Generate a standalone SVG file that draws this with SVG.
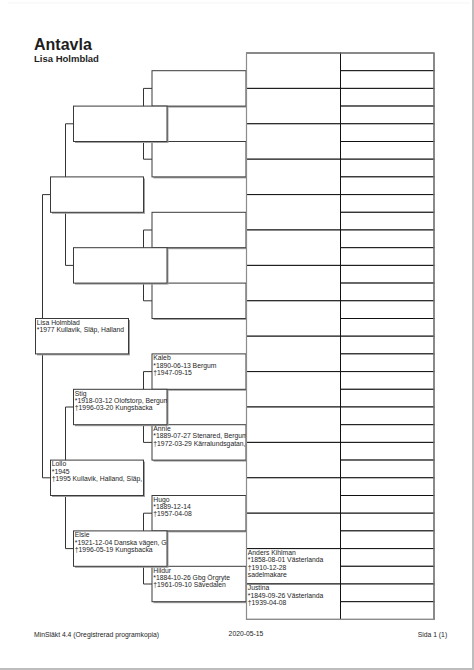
<svg xmlns="http://www.w3.org/2000/svg" width="474" height="670" viewBox="0 0 474 670">
<style>
text{font-family:"Liberation Sans",Arial,sans-serif;fill:#1e1e1e}
.t{font-size:6.8px}
.sh{fill:#a0a0a0}
.box{fill:#fff;stroke:#3a3a3a;stroke-width:1}
.g4{fill:#fff;stroke:#111;stroke-width:1}
.con{fill:none;stroke:#333;stroke-width:1}
</style>
<defs>
<clipPath id="cRoot"><rect x="35.5" y="318.5" width="93" height="35.4"/></clipPath>
<clipPath id="cLollo"><rect x="50.5" y="460.1" width="93" height="35.4"/></clipPath>
<clipPath id="cStig"><rect x="73.5" y="389.3" width="93.5" height="35.4"/></clipPath>
<clipPath id="cElsie"><rect x="73.5" y="530.9" width="93.5" height="35.4"/></clipPath>
<clipPath id="cKaleb"><rect x="152" y="353.9" width="94" height="35.4"/></clipPath>
<clipPath id="cAnnie"><rect x="152" y="424.7" width="94" height="35.4"/></clipPath>
<clipPath id="cHugo"><rect x="152" y="495.5" width="94" height="35.4"/></clipPath>
<clipPath id="cHildur"><rect x="152" y="566.3" width="94" height="35.4"/></clipPath>
<clipPath id="cAnders"><rect x="246.5" y="548.6" width="94" height="35.4"/></clipPath>
<clipPath id="cJustina"><rect x="246.5" y="584" width="94" height="35.4"/></clipPath>
</defs>
<rect width="474" height="670" fill="#fff"/>
<rect x="8" y="2.5" width="462" height="1" fill="#f5f5f5"/>
<rect x="472" y="0" width="2" height="670" fill="#bdbdbd"/>
<rect x="0" y="668" width="474" height="2" fill="#bdbdbd"/>

<text x="34" y="50" font-size="16" font-weight="bold">Antavla</text>
<text x="34" y="61.7" font-size="9.5" font-weight="bold">Lisa Holmblad</text>

<g id="connectors">
<path class="con" d="M50.5,194.6H42.5V477.8H50.5"/>
<path class="con" d="M73.5,123.8H65.5V265.4H73.5"/>
<path class="con" d="M73.5,407H65.5V548.6H73.5"/>
<path class="con" d="M152,88.4H143.5V159.2H152"/>
<path class="con" d="M152,230H143.5V300.8H152"/>
<path class="con" d="M152,371.6H143.5V442.4H152"/>
<path class="con" d="M152,513.2H143.5V584H152"/>
</g>

<!-- generation 3 -->
<g id="g3-0"><rect class="sh" x="153.5" y="72.2" width="94" height="35.4"/><rect class="box" x="152" y="70.7" width="94" height="35.4"/></g>
<g id="g3-1"><rect class="sh" x="153.5" y="143" width="94" height="35.4"/><rect class="box" x="152" y="141.5" width="94" height="35.4"/></g>
<g id="g3-2"><rect class="sh" x="153.5" y="213.8" width="94" height="35.4"/><rect class="box" x="152" y="212.3" width="94" height="35.4"/></g>
<g id="g3-3"><rect class="sh" x="153.5" y="284.6" width="94" height="35.4"/><rect class="box" x="152" y="283.1" width="94" height="35.4"/></g>
<g id="kaleb"><rect class="sh" x="153.5" y="355.4" width="94" height="35.4"/><rect class="box" x="152" y="353.9" width="94" height="35.4"/>
<g clip-path="url(#cKaleb)"><text class="t" x="153.3" y="360.2">Kaleb</text><text class="t" x="153.3" y="367.5">*1890-06-13 Bergum</text><text class="t" x="153.3" y="374.8">†1947-09-15</text></g></g>
<g id="annie"><rect class="sh" x="153.5" y="426.2" width="94" height="35.4"/><rect class="box" x="152" y="424.7" width="94" height="35.4"/>
<g clip-path="url(#cAnnie)"><text class="t" x="153.3" y="431">Annie</text><text class="t" x="153.3" y="438.3">*1889-07-27 Stenared, Bergum</text><text class="t" x="153.3" y="445.6">†1972-03-29 Kärralundsgatan,</text></g></g>
<g id="hugo"><rect class="sh" x="153.5" y="497" width="94" height="35.4"/><rect class="box" x="152" y="495.5" width="94" height="35.4"/>
<g clip-path="url(#cHugo)"><text class="t" x="153.3" y="501.8">Hugo</text><text class="t" x="153.3" y="509.1">*1889-12-14</text><text class="t" x="153.3" y="516.4">†1957-04-08</text></g></g>
<g id="hildur"><rect class="sh" x="153.5" y="567.8" width="94" height="35.4"/><rect class="box" x="152" y="566.3" width="94" height="35.4"/>
<g clip-path="url(#cHildur)"><text class="t" x="153.3" y="572.6">Hildur</text><text class="t" x="153.3" y="579.9">*1884-10-26 Gbg Örgryte</text><text class="t" x="153.3" y="587.2">†1961-09-10 Sävedalen</text></g></g>

<!-- generation 4 -->
<g id="g4-0"><rect class="g4" x="246.5" y="53" width="94" height="35.4"/></g>
<g id="g4-1"><rect class="g4" x="246.5" y="88.4" width="94" height="35.4"/></g>
<g id="g4-2"><rect class="g4" x="246.5" y="123.8" width="94" height="35.4"/></g>
<g id="g4-3"><rect class="g4" x="246.5" y="159.2" width="94" height="35.4"/></g>
<g id="g4-4"><rect class="g4" x="246.5" y="194.6" width="94" height="35.4"/></g>
<g id="g4-5"><rect class="g4" x="246.5" y="230" width="94" height="35.4"/></g>
<g id="g4-6"><rect class="g4" x="246.5" y="265.4" width="94" height="35.4"/></g>
<g id="g4-7"><rect class="g4" x="246.5" y="300.8" width="94" height="35.4"/></g>
<g id="g4-8"><rect class="g4" x="246.5" y="336.2" width="94" height="35.4"/></g>
<g id="g4-9"><rect class="g4" x="246.5" y="371.6" width="94" height="35.4"/></g>
<g id="g4-10"><rect class="g4" x="246.5" y="407" width="94" height="35.4"/></g>
<g id="g4-11"><rect class="g4" x="246.5" y="442.4" width="94" height="35.4"/></g>
<g id="g4-12"><rect class="g4" x="246.5" y="477.8" width="94" height="35.4"/></g>
<g id="g4-13"><rect class="g4" x="246.5" y="513.2" width="94" height="35.4"/></g>
<g id="anders"><rect class="g4" x="246.5" y="548.6" width="94" height="35.4"/>
<g clip-path="url(#cAnders)"><text class="t" x="247.8" y="554.9">Anders Kihlman</text><text class="t" x="247.8" y="562.2">*1858-08-01 Västerlanda</text><text class="t" x="247.8" y="569.5">†1910-12-28</text><text class="t" x="247.8" y="576.8">sadelmakare</text></g></g>
<g id="justina"><rect class="g4" x="246.5" y="584" width="94" height="35.4"/>
<g clip-path="url(#cJustina)"><text class="t" x="247.8" y="590.3">Justina</text><text class="t" x="247.8" y="597.6">*1849-09-26 Västerlanda</text><text class="t" x="247.8" y="604.9">†1939-04-08</text></g></g>

<!-- generation 5 -->
<g id="g5-0"><rect class="g4" x="340.5" y="53" width="93.5" height="17.7"/></g>
<g id="g5-1"><rect class="g4" x="340.5" y="70.7" width="93.5" height="17.7"/></g>
<g id="g5-2"><rect class="g4" x="340.5" y="88.4" width="93.5" height="17.7"/></g>
<g id="g5-3"><rect class="g4" x="340.5" y="106.1" width="93.5" height="17.7"/></g>
<g id="g5-4"><rect class="g4" x="340.5" y="123.8" width="93.5" height="17.7"/></g>
<g id="g5-5"><rect class="g4" x="340.5" y="141.5" width="93.5" height="17.7"/></g>
<g id="g5-6"><rect class="g4" x="340.5" y="159.2" width="93.5" height="17.7"/></g>
<g id="g5-7"><rect class="g4" x="340.5" y="176.9" width="93.5" height="17.7"/></g>
<g id="g5-8"><rect class="g4" x="340.5" y="194.6" width="93.5" height="17.7"/></g>
<g id="g5-9"><rect class="g4" x="340.5" y="212.3" width="93.5" height="17.7"/></g>
<g id="g5-10"><rect class="g4" x="340.5" y="230" width="93.5" height="17.7"/></g>
<g id="g5-11"><rect class="g4" x="340.5" y="247.7" width="93.5" height="17.7"/></g>
<g id="g5-12"><rect class="g4" x="340.5" y="265.4" width="93.5" height="17.7"/></g>
<g id="g5-13"><rect class="g4" x="340.5" y="283.1" width="93.5" height="17.7"/></g>
<g id="g5-14"><rect class="g4" x="340.5" y="300.8" width="93.5" height="17.7"/></g>
<g id="g5-15"><rect class="g4" x="340.5" y="318.5" width="93.5" height="17.7"/></g>
<g id="g5-16"><rect class="g4" x="340.5" y="336.2" width="93.5" height="17.7"/></g>
<g id="g5-17"><rect class="g4" x="340.5" y="353.9" width="93.5" height="17.7"/></g>
<g id="g5-18"><rect class="g4" x="340.5" y="371.6" width="93.5" height="17.7"/></g>
<g id="g5-19"><rect class="g4" x="340.5" y="389.3" width="93.5" height="17.7"/></g>
<g id="g5-20"><rect class="g4" x="340.5" y="407" width="93.5" height="17.7"/></g>
<g id="g5-21"><rect class="g4" x="340.5" y="424.7" width="93.5" height="17.7"/></g>
<g id="g5-22"><rect class="g4" x="340.5" y="442.4" width="93.5" height="17.7"/></g>
<g id="g5-23"><rect class="g4" x="340.5" y="460.1" width="93.5" height="17.7"/></g>
<g id="g5-24"><rect class="g4" x="340.5" y="477.8" width="93.5" height="17.7"/></g>
<g id="g5-25"><rect class="g4" x="340.5" y="495.5" width="93.5" height="17.7"/></g>
<g id="g5-26"><rect class="g4" x="340.5" y="513.2" width="93.5" height="17.7"/></g>
<g id="g5-27"><rect class="g4" x="340.5" y="530.9" width="93.5" height="17.7"/></g>
<g id="g5-28"><rect class="g4" x="340.5" y="548.6" width="93.5" height="17.7"/></g>
<g id="g5-29"><rect class="g4" x="340.5" y="566.3" width="93.5" height="17.7"/></g>
<g id="g5-30"><rect class="g4" x="340.5" y="584" width="93.5" height="17.7"/></g>
<g id="g5-31"><rect class="g4" x="340.5" y="601.7" width="93.5" height="17.7"/></g>
<path d="M246.5,53H434V619.4H246.5Z" fill="none" stroke="#8c8c8c" stroke-width="1.2"/>

<!-- generation 2 -->
<g id="g2-0"><rect class="sh" x="75" y="107.6" width="93.5" height="35.4"/><rect class="box" x="73.5" y="106.1" width="93.5" height="35.4"/></g>
<g id="g2-1"><rect class="sh" x="75" y="249.2" width="93.5" height="35.4"/><rect class="box" x="73.5" y="247.7" width="93.5" height="35.4"/></g>
<g id="stig"><rect class="sh" x="75" y="390.8" width="93.5" height="35.4"/><rect class="box" x="73.5" y="389.3" width="93.5" height="35.4"/>
<g clip-path="url(#cStig)"><text class="t" x="74.8" y="395.6">Stig</text><text class="t" x="74.8" y="402.9">*1918-03-12 Olofstorp, Bergum</text><text class="t" x="74.8" y="410.2">†1996-03-20 Kungsbacka</text></g></g>
<g id="elsie"><rect class="sh" x="75" y="532.4" width="93.5" height="35.4"/><rect class="box" x="73.5" y="530.9" width="93.5" height="35.4"/>
<g clip-path="url(#cElsie)"><text class="t" x="74.8" y="537.2">Elsie</text><text class="t" x="74.8" y="544.5">*1921-12-04 Danska vägen, G</text><text class="t" x="74.8" y="551.8">†1996-05-19 Kungsbacka</text></g></g>

<!-- generation 1 -->
<g id="g1-0"><rect class="sh" x="52" y="178.4" width="93" height="35.4"/><rect class="box" x="50.5" y="176.9" width="93" height="35.4"/></g>
<g id="lollo"><rect class="sh" x="52" y="461.6" width="93" height="35.4"/><rect class="box" x="50.5" y="460.1" width="93" height="35.4"/>
<g clip-path="url(#cLollo)"><text class="t" x="51.8" y="466.4">Lollo</text><text class="t" x="51.8" y="473.7">*1945</text><text class="t" x="51.8" y="481">†1995 Kullavik, Halland, Släp,</text></g></g>

<!-- root -->
<g id="root"><rect class="sh" x="37" y="320" width="93" height="35.4"/><rect class="box" x="35.5" y="318.5" width="93" height="35.4"/>
<g clip-path="url(#cRoot)"><text class="t" x="36.8" y="324.8">Lisa Holmblad</text><text class="t" x="36.8" y="332.1">*1977 Kullavik, Släp, Halland</text></g></g>

<text class="t" x="34" y="637.3">MinSläkt 4.4 (Oregistrerad programkopia)</text>
<text class="t" x="246" y="636" text-anchor="middle">2020-05-15</text>
<text class="t" x="417.7" y="637.3">Sida 1 (1)</text>
</svg>
